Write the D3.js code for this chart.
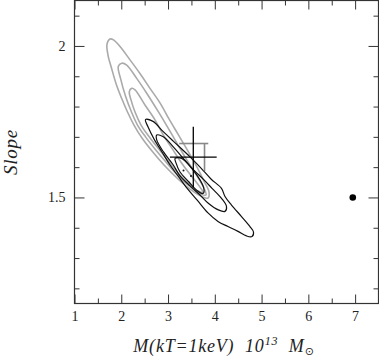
<!DOCTYPE html>
<html><head><meta charset="utf-8">
<script src="https://cdn.jsdelivr.net/npm/d3@7"></script>
<style>
html,body{margin:0;padding:0;background:#fff;}
svg{display:block;}
text{font-family:"Liberation Serif","DejaVu Serif",serif;fill:#222;}
</style></head>
<body>
<svg id="c" width="379" height="361"></svg>
<script>
// ---- data (M in 10^13 Msun, Slope) ----
const xTicksMajor = [1,2,3,4,5,6,7];
const xTicksMinor = [1.5,2.5,3.5,4.5,5.5,6.5,7.5];
const yTicksMajor = [1.5,2.0];
const yTickLabels = ["1.5","2"];
const yTicksMinor = [1.2,1.3,1.4,1.6,1.7,1.8,1.9,2.1];

// gray confidence contours (outer -> inner)
const grayOuter = [[1.759,2.023],[1.834,2.020],[1.973,1.998],[2.187,1.954],[2.400,1.909],[2.614,1.860],[2.828,1.812],[3.020,1.759],[3.213,1.709],[3.427,1.653],[3.619,1.600],[3.769,1.554],[3.876,1.518],[3.854,1.498],[3.747,1.501],[3.491,1.525],[3.213,1.561],[2.914,1.607],[2.657,1.653],[2.443,1.696],[2.272,1.739],[2.133,1.782],[2.005,1.828],[1.898,1.871],[1.791,1.927],[1.716,1.970],[1.695,2.006]];
const grayMiddle = [[2.009,1.943],[2.116,1.937],[2.330,1.893],[2.544,1.844],[2.792,1.783],[3.006,1.728],[3.213,1.673],[3.427,1.617],[3.619,1.571],[3.769,1.531],[3.812,1.508],[3.705,1.511],[3.470,1.536],[3.213,1.572],[2.956,1.617],[2.721,1.660],[2.518,1.700],[2.347,1.739],[2.219,1.782],[2.090,1.835],[1.984,1.893],[1.936,1.932]];
const grayInner = [[2.223,1.860],[2.294,1.855],[2.507,1.805],[2.721,1.756],[2.899,1.706],[3.106,1.657],[3.320,1.607],[3.534,1.564],[3.683,1.534],[3.747,1.518],[3.641,1.521],[3.427,1.548],[3.192,1.584],[2.999,1.622],[2.785,1.663],[2.593,1.701],[2.422,1.739],[2.294,1.782],[2.208,1.822],[2.172,1.849]];

// black confidence contours (outer -> inner)
const blackOuter = [[2.518,1.757],[2.678,1.751],[2.892,1.718],[3.117,1.685],[3.470,1.634],[3.705,1.597],[3.918,1.561],[4.143,1.530],[4.218,1.503],[4.357,1.475],[4.571,1.437],[4.752,1.404],[4.827,1.386],[4.795,1.371],[4.678,1.373],[4.496,1.388],[4.282,1.404],[4.068,1.421],[3.854,1.449],[3.619,1.492],[3.405,1.531],[3.213,1.571],[3.042,1.607],[2.871,1.650],[2.700,1.693],[2.571,1.733]];
const blackMiddle = [[2.758,1.706],[2.899,1.700],[3.112,1.667],[3.326,1.629],[3.540,1.592],[3.769,1.558],[3.940,1.530],[4.143,1.497],[4.250,1.470],[4.218,1.454],[4.075,1.459],[3.861,1.481],[3.683,1.508],[3.470,1.538],[3.256,1.571],[3.112,1.607],[2.899,1.651],[2.758,1.690]];
const blackInner = [[3.149,1.629],[3.292,1.629],[3.506,1.596],[3.683,1.558],[3.758,1.534],[3.769,1.518],[3.747,1.513],[3.619,1.523],[3.448,1.551],[3.256,1.584],[3.170,1.614]];
const blackPeaks = [[3.331,1.589],[3.491,1.571]];

// crosses: [M, S, xErrMinus, xErrPlus, yErrMinus, yErrPlus]
const blackCross = [3.54, 1.633, 0.5, 0.5, 0.1, 0.1];
const grayCross  = [3.78, 1.678, 0.54, 0.08, 0.091, 0.0];
// single point
const pointM = [6.95], pointS = [1.5];

// ---- layout ----
const L = 74.5, R = 378.5, T = 0.5, B = 303.5;
const x = d3.scaleLinear().domain([1, 7.5]).range([L, R]);
const y = d3.scaleLinear().domain([1.15, 2.15]).range([B, T]);
const svg = d3.select("#c");
const axisColor = "#333";
const tickFont = "Liberation Serif, DejaVu Serif, serif";

function styleAxis(g){ g.select(".domain").remove(); g.selectAll("line").attr("stroke", axisColor).attr("stroke-width",1); }
svg.append("g").attr("transform",`translate(0,${B})`)
  .call(d3.axisBottom(x).tickValues(xTicksMajor).tickSize(-9).tickPadding(8).tickFormat(d3.format("d")))
  .call(styleAxis)
  .call(g=>g.attr("font-family",tickFont).attr("font-size",14).selectAll("text").attr("fill","#222"));
svg.append("g").attr("transform",`translate(0,${B})`)
  .call(d3.axisBottom(x).tickValues(xTicksMinor).tickSize(-5).tickFormat(""))
  .call(styleAxis);
svg.append("g").attr("transform",`translate(0,${T})`)
  .call(d3.axisTop(x).tickValues(xTicksMajor).tickSize(-9).tickFormat(""))
  .call(styleAxis);
svg.append("g").attr("transform",`translate(0,${T})`)
  .call(d3.axisTop(x).tickValues(xTicksMinor).tickSize(-5).tickFormat(""))
  .call(styleAxis);
svg.append("g").attr("transform",`translate(${L},0)`)
  .call(d3.axisLeft(y).tickValues(yTicksMajor).tickSize(-10).tickPadding(9).tickFormat((d,i)=>yTickLabels[i]))
  .call(styleAxis)
  .call(g=>g.attr("font-family",tickFont).attr("font-size",14).selectAll("text").attr("fill","#222"));
svg.append("g").attr("transform",`translate(${L},0)`)
  .call(d3.axisLeft(y).tickValues(yTicksMinor).tickSize(-5).tickFormat(""))
  .call(styleAxis);
svg.append("g").attr("transform",`translate(${R},0)`)
  .call(d3.axisRight(y).tickValues(yTicksMajor).tickSize(-10).tickFormat(""))
  .call(styleAxis);
svg.append("g").attr("transform",`translate(${R},0)`)
  .call(d3.axisRight(y).tickValues(yTicksMinor).tickSize(-5).tickFormat(""))
  .call(styleAxis);
svg.append("rect").attr("x",L).attr("y",T).attr("width",R-L).attr("height",B-T)
  .attr("fill","none").attr("stroke",axisColor).attr("stroke-width",1.2);

// contours
const line = d3.line().x(d=>x(d[0])).y(d=>y(d[1])).curve(d3.curveCatmullRomClosed.alpha(0.5));
const gc = svg.append("g");
[grayOuter, grayMiddle, grayInner].forEach(c=>{
  gc.append("path").attr("d", line(c)).attr("fill","none").attr("stroke","#aaaaaa").attr("stroke-width",1.6);
});
[blackOuter, blackMiddle, blackInner].forEach(c=>{
  gc.append("path").attr("d", line(c)).attr("fill","none").attr("stroke","#111").attr("stroke-width",1.2);
});
gc.selectAll("circle.pk").data(blackPeaks).join("circle").attr("class","pk")
  .attr("cx",d=>x(d[0])).attr("cy",d=>y(d[1])).attr("r",1).attr("fill","#111");

// crosses
function cross(c, color, w){
  const [m,s,xm,xp,ym,yp] = c;
  svg.append("line").attr("x1",x(m-xm)).attr("x2",x(m+xp)).attr("y1",y(s)).attr("y2",y(s)).attr("stroke",color).attr("stroke-width",w);
  svg.append("line").attr("x1",x(m)).attr("x2",x(m)).attr("y1",y(s-ym)).attr("y2",y(s+yp)).attr("stroke",color).attr("stroke-width",w);
}
cross(grayCross, "#888", 1.6);
cross(blackCross, "#000", 1.3);

// point
svg.selectAll("circle.pt").data(pointM).join("circle").attr("class","pt")
  .attr("cx",d=>x(d)).attr("cy",(d,i)=>y(pointS[i])).attr("r",3.3).attr("fill","#000");

// axis titles
const xl = svg.append("text").attr("x",224).attr("y",352).attr("text-anchor","middle")
  .attr("font-size",18).attr("font-style","italic").attr("letter-spacing",0.8).attr("fill","#222");
xl.append("tspan").text("M(kT=1keV)\u00a0\u00a010");
xl.append("tspan").attr("dy",-7).attr("font-size",12).text("13");
xl.append("tspan").attr("dy",7).text("\u00a0\u00a0M");
xl.append("tspan").attr("dy",3).attr("font-size",11).attr("font-style","normal").attr("font-family","DejaVu Sans").text("\u2299");
svg.append("text").attr("transform",`translate(17,${(T+B)/2}) rotate(-90)`).attr("text-anchor","middle")
  .attr("font-size",19).attr("font-style","italic").attr("letter-spacing",0.8).attr("fill","#222").text("Slope");
</script>
</body></html>
